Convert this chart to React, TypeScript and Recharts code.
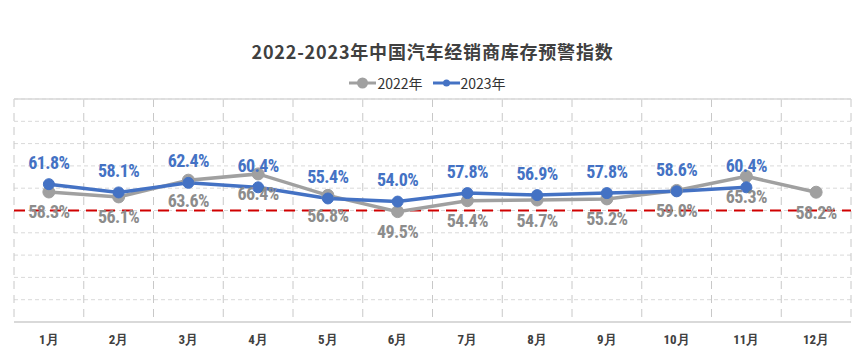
import React from 'react';
import { LineChart, Line, XAxis, YAxis, CartesianGrid, ReferenceLine } from 'recharts';

const months = ['1月', '2月', '3月', '4月', '5月', '6月', '7月', '8月', '9月', '10月', '11月', '12月'];
const index2022 = [58.3, 56.1, 63.6, 66.4, 56.8, 49.5, 54.4, 54.7, 55.2, 59.0, 65.3, 58.2];
const index2023 = [61.8, 58.1, 62.4, 60.4, 55.4, 54.0, 57.8, 56.9, 57.8, 58.6, 60.4, null];
const warningLevel = 50;
const yTicks = [0, 10, 20, 30, 40, 50, 60, 70, 80, 90, 100];
const bandTicks = [0, 1, 2, 3, 4, 5, 6, 7, 8, 9, 10, 11, 12];
const seriesNames = ['2022年', '2023年'];

const GRAY = '#A0A0A0';
const BLUE = '#4472C4';
const NARROW = "'Liberation Sans Narrow', 'Arial Narrow', 'Roboto Condensed', 'Liberation Sans', sans-serif";

const data = months.map((month, i) => ({
  month,
  band: i + 0.5,
  y2022: index2022[i],
  y2023: index2023[i],
}));

// data labels: blue above the point, gray below it
const makeLabel = (color: string, dy: number) => (props: any) => {
  const { x, y, value, index } = props;
  if (value == null) return null;
  return (
    <text
      key={`lbl-${color}-${index}`}
      x={x}
      y={y + dy}
      textAnchor="middle"
      dominantBaseline="central"
      fill={color}
      fontSize={18}
      letterSpacing={-0.6}
      fontWeight="bold"
      fontFamily={NARROW}
    >
      {Number(value).toFixed(1)}%
    </text>
  );
};

const LegendBox = () => (
  <div
    style={{
      position: 'absolute',
      top: 73,
      left: 0,
      width: 865,
      display: 'flex',
      justifyContent: 'center',
      alignItems: 'center',
      fontFamily: "'Noto Sans CJK SC', sans-serif",
      fontSize: 14,
      color: '#333',
      zIndex: 2,
    }}
  >
    {[{ name: seriesNames[0], color: GRAY, r: 5.5 }, { name: seriesNames[1], color: BLUE, r: 3.5 }].map((s) => (
      <div key={s.name} style={{ display: 'flex', alignItems: 'center', marginRight: 10 }}>
        <svg width={27} height={12}>
          <line x1={0} y1={6} x2={27} y2={6} stroke={s.color} strokeWidth={3} />
          <circle cx={13.5} cy={6} r={s.r} fill={s.color} />
        </svg>
        <span style={{ marginLeft: 1 }}>{s.name}</span>
      </div>
    ))}
  </div>
);

export default function App() {
  return (
    <div style={{ position: 'absolute', left: 0, top: 0, width: 865, height: 360, background: '#fff' }}>
      <div
        style={{
          position: 'absolute',
          top: 38,
          left: 0,
          width: 865,
          textAlign: 'center',
          fontFamily: "'Noto Sans CJK SC', sans-serif",
          fontWeight: 'bold',
          fontSize: 18,
          letterSpacing: 0.8,
          color: '#404040',
          zIndex: 2,
        }}
      >
        2022-2023年中国汽车经销商库存预警指数
      </div>
      <LegendBox />
      <LineChart width={865} height={360} data={data} margin={{ top: 99, right: 14, bottom: 0, left: 14 }}>
        <CartesianGrid horizontal vertical={false} stroke="#D9D9D9" strokeDasharray="4 3" />
        <CartesianGrid horizontal={false} vertical xAxisId="band" stroke="#C8C8C8" strokeDasharray="8 6" />
        <XAxis
          dataKey="month"
          scale="band"
          height={38}
          axisLine={{ stroke: '#D9D9D9', strokeWidth: 2 }}
          tickLine={false}
          tickMargin={7}
          interval={0}
          tick={{ fontSize: 13, fontWeight: 'bold', fill: '#404040', fontFamily: NARROW }}
        />
        <XAxis
          xAxisId="band"
          type="number"
          dataKey="band"
          domain={[0, 12]}
          ticks={bandTicks}
          interval={0}
          orientation="top"
          height={0}
          tick={{ fontSize: 0 }}
          axisLine={false}
          tickLine={false}
        />
        <YAxis
          domain={[0, 100]}
          ticks={yTicks}
          interval={0}
          width={0}
          tick={{ fontSize: 0 }}
          axisLine={false}
          tickLine={false}
        />
        <ReferenceLine y={100} stroke="#D9D9D9" strokeWidth={1.5} />
        <ReferenceLine y={warningLevel} stroke="#D00000" strokeWidth={2} strokeDasharray="11 7" />
        <Line
          name={seriesNames[0]}
          dataKey="y2022"
          stroke={GRAY}
          strokeWidth={3.5}
          dot={{ r: 6, fill: GRAY, stroke: GRAY, strokeWidth: 1 }}
          activeDot={false}
          label={makeLabel('#8C8C8C', 20)}
          isAnimationActive={false}
        />
        <Line
          name={seriesNames[1]}
          dataKey="y2023"
          stroke={BLUE}
          strokeWidth={3.5}
          dot={{ r: 5.5, fill: BLUE, stroke: BLUE, strokeWidth: 1 }}
          activeDot={false}
          label={makeLabel(BLUE, -22)}
          isAnimationActive={false}
        />
      </LineChart>
    </div>
  );
}
